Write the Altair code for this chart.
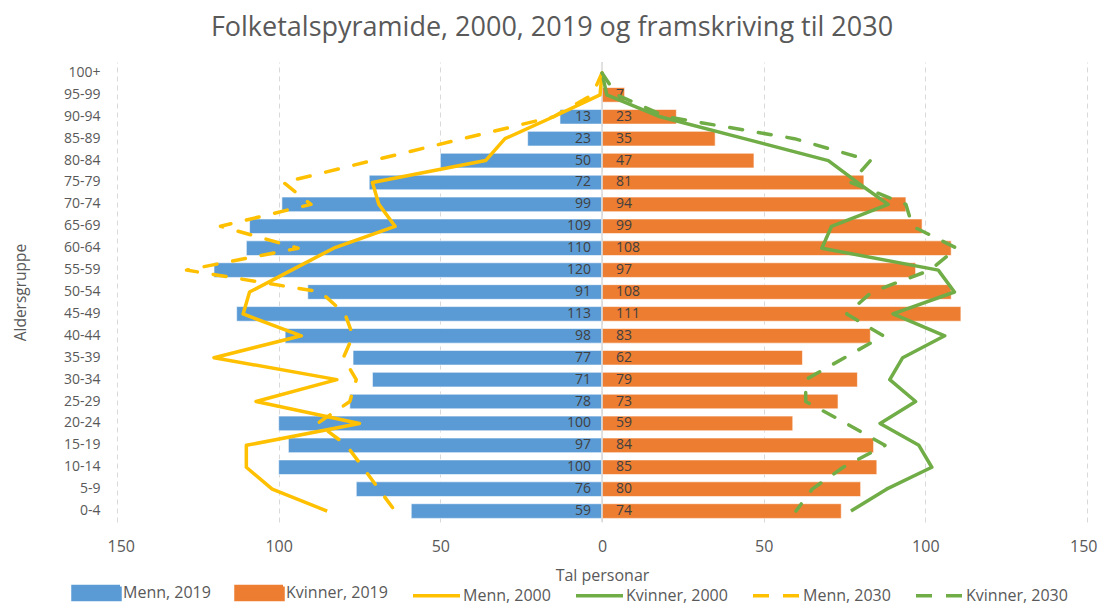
import altair as alt
import pandas as pd

ages = ["100+", "95-99", "90-94", "85-89", "80-84", "75-79", "70-74", "65-69",
        "60-64", "55-59", "50-54", "45-49", "40-44", "35-39", "30-34", "25-29",
        "20-24", "15-19", "10-14", "5-9", "0-4"]

menn_2019 = [0, 0, 13, 23, 50, 72, 99, 109, 110, 120, 91, 113, 98, 77, 71, 78, 100, 97, 100, 76, 59]
kvinner_2019 = [0, 7, 23, 35, 47, 81, 94, 99, 108, 97, 108, 111, 83, 62, 79, 73, 59, 84, 85, 80, 74]
menn_2000 = [0, 0.6, 15, 30, 36, 71, 69, 64, 83, 96, 109, 111, 93, 120, 82, 107, 75, 110, 110, 102, 85]
kvinner_2000 = [0, 1.5, 18, 44, 70, 79, 88.5, 71, 68, 104, 109, 90, 106, 93, 89, 97, 86, 98, 102, 88, 77]
menn_2030 = [0, 3, 15, 43, 71, 98.5, 90, 118, 94, 128.5, 87, 79.5, 77, 80, 76, 78, 88, 79, 74, 69, 64]
kvinner_2030 = [0, 4.5, 20, 59.5, 83, 77, 94, 96, 109.7, 101.5, 83.5, 75.7, 87, 75, 63, 63, 75.5, 87.5, 74.6, 65, 60]

series_names = ["Menn, 2019", "Kvinner, 2019", "Menn, 2000", "Kvinner, 2000", "Menn, 2030", "Kvinner, 2030"]
series_colors = ["#5B9BD5", "#ED7D31", "#FFC000", "#70AD47", "#FFC000", "#70AD47"]
x_ticks = [-150, -100, -50, 0, 50, 100, 150]

FONT = "Open Sans"
TXT = "#595959"

def table(name, values, sign):
    return pd.DataFrame({
        "series": name,
        "age": ages,
        "idx": list(range(len(ages))),
        "v": [sign * v for v in values],
        "label": [str(v) if v > 0 else "" for v in values],
    })

bars_df = pd.concat([table("Menn, 2019", menn_2019, -1), table("Kvinner, 2019", kvinner_2019, 1)])
solid_df = pd.concat([table("Menn, 2000", menn_2000, -1), table("Kvinner, 2000", kvinner_2000, 1)])
dash_df = pd.concat([table("Menn, 2030", menn_2030, -1), table("Kvinner, 2030", kvinner_2030, 1)])
zero_df = pd.DataFrame({"v": [0]})

is_bar = "indexof(datum.value,'2019')>=0"
legend = alt.Legend(
    title=None, orient="none", direction="horizontal", columns=6,
    legendX=-46, legendY=505,
    symbolSize=2209, columnPadding=18, labelOffset=1,
    labelFont=FONT, labelFontSize=16, labelColor=TXT,
    symbolType={"expr": f"{is_bar} ? 'M-1,-0.28H1V0.28H-1Z' : 'stroke'"},
    symbolFillColor={"expr": f"{is_bar} ? scale('color', datum.value) : 'transparent'"},
    symbolStrokeColor={"expr": f"{is_bar} ? 'transparent' : scale('color', datum.value)"},
    symbolDash={"expr": "indexof(datum.value,'2030')>=0 ? [16,14] : [1,0]"},
    symbolStrokeWidth=3.5,
    symbolOpacity=1,
)

color = alt.Color("series:N", scale=alt.Scale(domain=series_names, range=series_colors), legend=legend)

x_enc = alt.X("v:Q", scale=alt.Scale(domain=[-150, 150], nice=False, zero=False),
              axis=alt.Axis(values=x_ticks, labelExpr="abs(datum.value)", title="Tal personar",
                            grid=True, gridDash=[5, 4], gridColor="#d9d9d9", gridWidth=1,
                            domain=False, ticks=False, labelPadding=16, titlePadding=13,
                            labelFlush=True, labelFlushOffset=10, labelOverlap=False,
                            labelFont=FONT, labelFontSize=16, labelColor=TXT,
                            titleFont=FONT, titleFontSize=16, titleColor=TXT, titleFontWeight="normal"))
y_enc = alt.Y("age:N", sort=ages, scale=alt.Scale(paddingInner=0.33, paddingOuter=0.165),
              axis=alt.Axis(title="Aldersgruppe", domain=False, ticks=False, grid=False,
                            labelPadding=17, labelFont=FONT, labelFontSize=14, labelColor=TXT,
                            titleFont=FONT, titleFontSize=15.5, titleColor=TXT, titleFontWeight="normal",
                            titleX=-97, titleY=230, titleAngle=-90, titleAlign="center", titleBaseline="middle"))

bars = alt.Chart(bars_df).mark_bar(stroke="white", strokeWidth=0.6).encode(x=x_enc, y=y_enc, color=color)

labels_m = alt.Chart(bars_df[bars_df["series"] == "Menn, 2019"]).mark_text(
    align="right", baseline="middle", dx=-11, font=FONT, fontSize=14, color="#404040"
).encode(x=alt.X("zero:Q"), y=alt.Y("age:N", sort=ages), text="label:N").transform_calculate(zero="0")
labels_k = alt.Chart(bars_df[bars_df["series"] == "Kvinner, 2019"]).mark_text(
    align="left", baseline="middle", dx=14, font=FONT, fontSize=14, color="#404040"
).encode(x=alt.X("zero:Q"), y=alt.Y("age:N", sort=ages), text="label:N").transform_calculate(zero="0")

zero_rule = alt.Chart(zero_df).mark_rule(color="#d9d9d9", strokeWidth=1.5).encode(x="v:Q")

solid = alt.Chart(solid_df).mark_line(strokeWidth=3.5, strokeJoin="round").encode(
    x="v:Q", y=alt.Y("age:N", sort=ages), color=color, order="idx:Q")
dashed = alt.Chart(dash_df).mark_line(strokeWidth=3.5, strokeDash=[13, 16], strokeCap="round", strokeJoin="round").encode(
    x="v:Q", y=alt.Y("age:N", sort=ages), color=color, order="idx:Q")

chart = alt.layer(bars, zero_rule, labels_m, labels_k, solid, dashed).properties(
    width=970, height=460,
    title=alt.TitleParams("Folketalspyramide, 2000, 2019 og framskriving til 2030", font=FONT,
                          fontSize=27, fontWeight="normal", color=TXT, anchor="middle", dx=-50, offset=19),
    padding={"left": 109, "top": 54, "right": 11, "bottom": 84},
    autosize=alt.AutoSizeParams(type="none"),
).configure_view(stroke=None)

chart.save("out.html", embed_options={"renderer": "svg", "actions": False})
